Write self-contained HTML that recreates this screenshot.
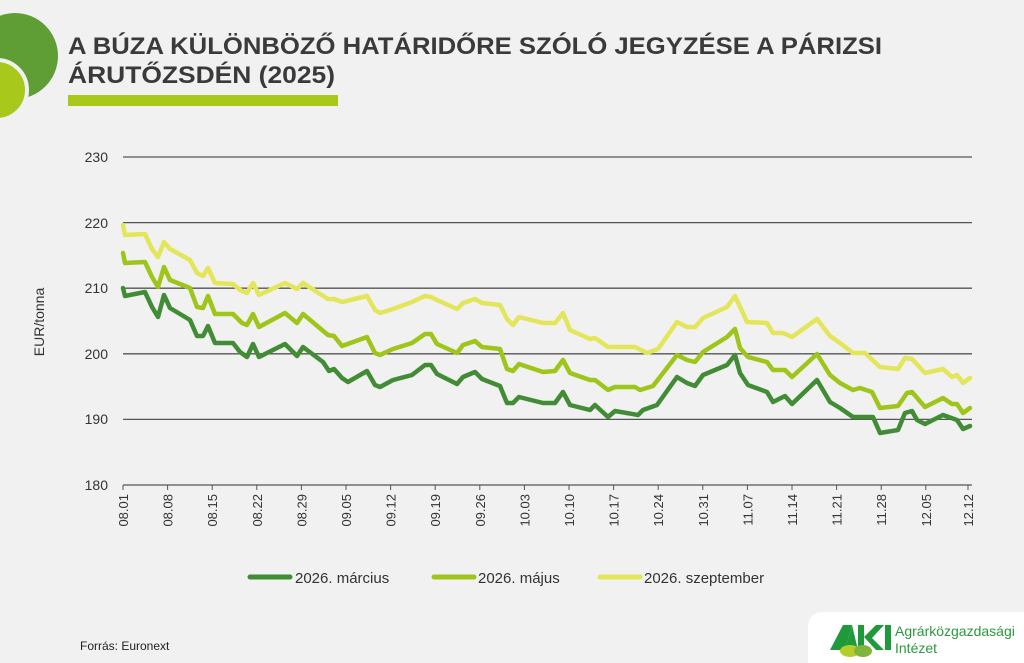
<!DOCTYPE html>
<html><head><meta charset="utf-8"><style>
html,body{margin:0;padding:0;background:#f1f1f1;}
svg{display:block;font-family:"Liberation Sans",sans-serif;}
</style></head><body>
<svg width="1024" height="663" viewBox="0 0 1024 663" xmlns="http://www.w3.org/2000/svg">
<rect width="1024" height="663" fill="#f1f1f1"/>
<circle cx="15" cy="56" r="43" fill="#5e9e35"/>
<circle cx="-3" cy="90" r="30" fill="#a9c81c" stroke="#f1f1f1" stroke-width="4"/>
<g fill="#3a3a3a" font-weight="bold" font-size="24">
<text x="68" y="54" textLength="814" lengthAdjust="spacingAndGlyphs">A BÚZA KÜLÖNBÖZŐ HATÁRIDŐRE SZÓLÓ JEGYZÉSE A PÁRIZSI</text>
<text x="68" y="83" textLength="267" lengthAdjust="spacingAndGlyphs">ÁRUTŐZSDÉN (2025)</text>
</g>
<rect x="68" y="95" width="270" height="11" fill="#a9c81c"/>
<g stroke="#555" stroke-width="1.3">
<line x1="123" y1="157" x2="972" y2="157"/>
<line x1="123" y1="222.6" x2="972" y2="222.6"/>
<line x1="123" y1="288.2" x2="972" y2="288.2"/>
<line x1="123" y1="353.8" x2="972" y2="353.8"/>
<line x1="123" y1="419.4" x2="972" y2="419.4"/>
<line x1="123" y1="485" x2="972" y2="485"/>
</g>
<g stroke="#555" stroke-width="1">
<line x1="123" y1="485" x2="123" y2="490"/><line x1="167.6" y1="485" x2="167.6" y2="490"/><line x1="212.2" y1="485" x2="212.2" y2="490"/><line x1="256.8" y1="485" x2="256.8" y2="490"/><line x1="301.4" y1="485" x2="301.4" y2="490"/><line x1="346" y1="485" x2="346" y2="490"/><line x1="390.6" y1="485" x2="390.6" y2="490"/><line x1="435.2" y1="485" x2="435.2" y2="490"/><line x1="479.8" y1="485" x2="479.8" y2="490"/><line x1="524.4" y1="485" x2="524.4" y2="490"/><line x1="569" y1="485" x2="569" y2="490"/><line x1="613.6" y1="485" x2="613.6" y2="490"/><line x1="658.2" y1="485" x2="658.2" y2="490"/><line x1="702.8" y1="485" x2="702.8" y2="490"/><line x1="747.4" y1="485" x2="747.4" y2="490"/><line x1="792" y1="485" x2="792" y2="490"/><line x1="836.6" y1="485" x2="836.6" y2="490"/><line x1="881.2" y1="485" x2="881.2" y2="490"/><line x1="925.8" y1="485" x2="925.8" y2="490"/><line x1="968" y1="485" x2="968" y2="490"/>
</g>
<g fill="#333" font-size="14" text-anchor="end">
<text x="108" y="162">230</text><text x="108" y="228">220</text><text x="108" y="293">210</text><text x="108" y="359">200</text><text x="108" y="424">190</text><text x="108" y="490">180</text>
</g>
<text transform="translate(44,322) rotate(-90)" fill="#333" font-size="14" text-anchor="middle">EUR/tonna</text>
<g fill="#333" font-size="13" text-anchor="end">
<text transform="translate(128,494) rotate(-90)">08.01</text>
<text transform="translate(172.6,494) rotate(-90)">08.08</text>
<text transform="translate(217.2,494) rotate(-90)">08.15</text>
<text transform="translate(261.8,494) rotate(-90)">08.22</text>
<text transform="translate(306.4,494) rotate(-90)">08.29</text>
<text transform="translate(351,494) rotate(-90)">09.05</text>
<text transform="translate(395.6,494) rotate(-90)">09.12</text>
<text transform="translate(440.2,494) rotate(-90)">09.19</text>
<text transform="translate(484.8,494) rotate(-90)">09.26</text>
<text transform="translate(529.4,494) rotate(-90)">10.03</text>
<text transform="translate(574,494) rotate(-90)">10.10</text>
<text transform="translate(618.6,494) rotate(-90)">10.17</text>
<text transform="translate(663.2,494) rotate(-90)">10.24</text>
<text transform="translate(707.8,494) rotate(-90)">10.31</text>
<text transform="translate(752.4,494) rotate(-90)">11.07</text>
<text transform="translate(797,494) rotate(-90)">11.14</text>
<text transform="translate(841.6,494) rotate(-90)">11.21</text>
<text transform="translate(886.2,494) rotate(-90)">11.28</text>
<text transform="translate(930.8,494) rotate(-90)">12.05</text>
<text transform="translate(973,494) rotate(-90)">12.12</text>
</g>
<g fill="none" stroke-width="4.5" stroke-linejoin="round" stroke-linecap="round">
<polyline stroke="#e3e65a" points="123,225 125,235 145,234 152,249 158,257 164,242 170,249 190,260 197,273 203,276 208,268 215,283 233,284 240,290 247,293 253,283 259,295 285,283 297,289 303,283 328,299 334,299 342,302 367,296 375,310 380,313 393,309 412,302 425,296 431,297 437,300 457,309 463,303 475,299 482,303 500,305 507,319 513,325 519,317 543,323 555,323 563,313 570,330 590,339 595,338 608,347 635,347 647,353 658,349 677,322 687,327 695,327 703,318 727,307 735,296 747,322 767,323 773,333 783,333 792,337 817,319 830,336 840,343 853,353 865,353 880,367 898,369 905,358 912,359 925,373 943,369 952,377 957,375 963,383 970,378"/>
<polyline stroke="#9fc51b" points="123,253 125,263 145,262 152,277 158,287 164,267 170,280 190,288 197,307 203,308 208,296 215,314 233,314 242,323 247,325 253,314 259,327 285,313 297,323 303,314 328,335 334,336 342,346 367,337 375,353 380,355 393,349 412,343 425,334 431,334 437,344 457,353 463,345 475,341 482,347 500,349 507,369 513,371 519,364 543,372 555,371 563,360 570,373 590,380 595,380 608,390 615,387 635,387 640,390 653,386 677,355 687,360 695,362 703,352 727,337 735,329 740,348 748,357 767,362 773,370 785,370 792,377 817,354 830,375 840,383 853,390 860,388 872,392 880,408 898,406 907,393 912,392 925,407 943,398 952,404 957,404 963,413 970,408"/>
<polyline stroke="#428c35" points="123,288 125,296 145,292 152,307 158,317 164,295 170,308 190,320 197,336 203,336 208,326 215,343 233,343 240,352 247,357 253,344 259,357 285,344 297,356 303,347 323,362 329,371 334,369 342,378 348,382 367,371 375,385 380,387 393,380 412,375 425,365 431,365 437,374 457,384 463,377 475,372 482,379 500,386 507,403 513,403 519,397 543,403 555,403 563,392 570,405 590,410 595,405 608,417 615,411 638,415 643,410 657,405 677,377 687,383 695,386 703,375 727,365 735,355 740,373 748,385 767,392 773,402 785,396 792,404 817,380 830,402 840,408 853,417 873,417 880,433 898,430 905,413 912,411 917,420 925,424 943,415 957,420 963,429 970,426"/>
</g>
<g stroke-width="5" stroke-linecap="round">
<line x1="250" y1="577" x2="290" y2="577" stroke="#428c35"/>
<line x1="434" y1="577" x2="474" y2="577" stroke="#9fc51b"/>
<line x1="600" y1="577" x2="640" y2="577" stroke="#e3e65a"/>
</g>
<g fill="#333" font-size="15">
<text x="295" y="583">2026. március</text>
<text x="478" y="583">2026. május</text>
<text x="644" y="583">2026. szeptember</text>
</g>
<text x="80" y="650" fill="#222" font-size="12">Forrás: Euronext</text>
<path d="M808,663 L808,628 Q808,612 824,612 L1024,612 L1024,663 Z" fill="#ffffff"/>
<polygon points="830,650 843,625 852,625 845,650" fill="#1e9a3c"/>
<polygon points="845,650 852,625 858,650" fill="#1e9a3c"/>
<polygon points="858,625 864,625 864,650 858,650" fill="#1e9a3c"/>
<polygon points="864,637 876,625 884,625 872,638 884,650 876,650" fill="#1e9a3c"/>
<rect x="885" y="625" width="6" height="25" fill="#1e9a3c"/>
<ellipse cx="850" cy="651" rx="10" ry="6" fill="#b5cf2a"/>
<ellipse cx="863" cy="651" rx="9" ry="6" fill="#7fb53a"/>
<text x="895" y="636" fill="#2a9a3c" font-size="14">Agrárközgazdasági</text>
<text x="895" y="653" fill="#2a9a3c" font-size="14">Intézet</text>
</svg>
</body></html>
